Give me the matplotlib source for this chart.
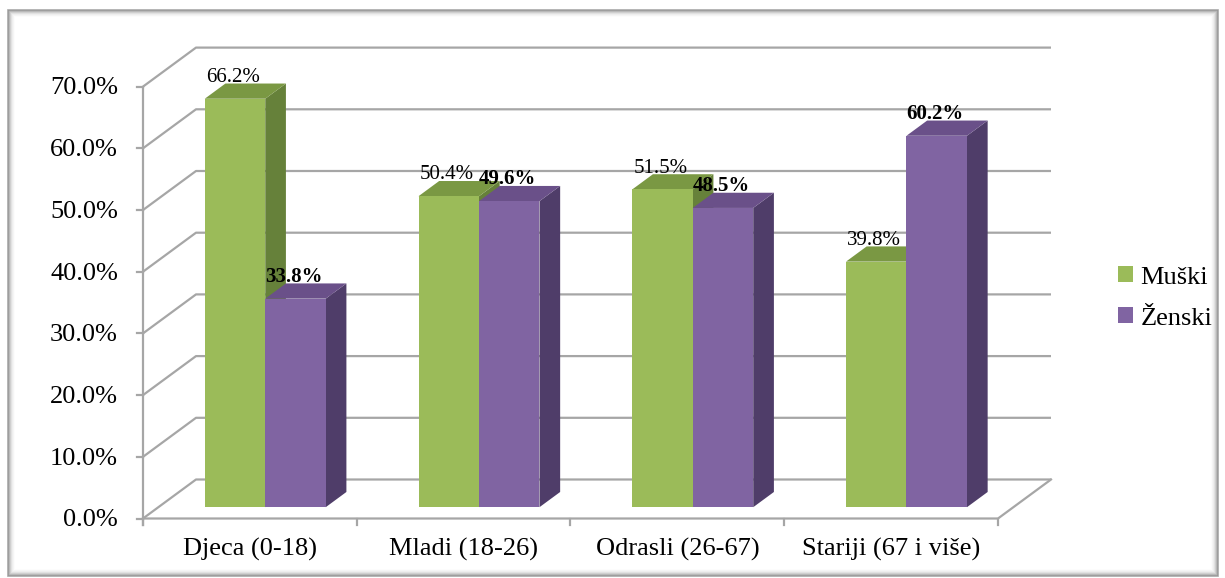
import matplotlib.pyplot as plt
from matplotlib.patches import Polygon, Rectangle, Patch

plt.rcParams['font.family'] = ['Liberation Serif', 'DejaVu Serif']

categories = ['Djeca (0-18)', 'Mladi (18-26)', 'Odrasli (26-67)', 'Stariji (67 i više)']
muski = [66.2, 50.4, 51.5, 39.8]
zenski = [33.8, 49.6, 48.5, 60.2]
series_names = ['Muški', 'Ženski']
y_ticks = [0, 10, 20, 30, 40, 50, 60, 70]

# colours: front, top, side
green = ('#9bbb59', '#7a9843', '#66813a')
purple = ('#8064a2', '#6a5089', '#4f3d69')
grid_c = '#a6a6a6'

# layout in pixels
W, H = 1225, 578
X0, SX = 143.0, 213.75      # front floor left, px per category
Y0, SY = 518.5, 6.17        # front floor y, px per percent
DXD = 53 / SX               # depth offset (data units)
DYD = 39 / SY
BAR_W = 0.283
D_FRONT, D_BACK = 0.29, 0.68

fig = plt.figure(figsize=(W / 100, H / 100), dpi=100)
ax = fig.add_axes([0, 0, 1, 1])
ax.set_xlim(-0.5 - X0 / SX, -0.5 + (W - X0) / SX)
ax.set_ylim(-(H - Y0) / SY, Y0 / SY)
ax.axis('off')


def proj(x, v, d):
    return x + d * DXD, v + d * DYD


x_left, x_right = -0.5, len(categories) - 0.5

# back wall + left wall gridlines
for v in y_ticks:
    p0 = proj(x_left, v, 0)
    p1 = proj(x_left, v, 1)
    p2 = proj(x_right, v, 1)
    ax.plot([p0[0], p1[0], p2[0]], [p0[1], p1[1], p2[1]], color=grid_c, lw=1.6,
            solid_capstyle='butt', zorder=1)
    ax.plot([x_left - 6 / SX, x_left], [v, v], color=grid_c, lw=1.6, zorder=1)
    ax.text(x_left - 25 / SX, v - 0.3, f'{v:.1f}%', ha='right', va='center',
            fontsize=19, color='black')

# floor front + right edge, y axis line
f1 = proj(x_right, 0, 1)
ax.plot([x_left, x_right, f1[0]], [0, 0, f1[1]], color=grid_c, lw=1.6, zorder=1)
ax.plot([x_left, x_left], [-1.0, y_ticks[-1]], color=grid_c, lw=1.6, zorder=1)
for i in range(len(categories) + 1):
    ax.plot([x_left + i, x_left + i], [0, -1.1], color=grid_c, lw=1.6, zorder=1)

for i, cat in enumerate(categories):
    ax.text(i, -5.0, cat, ha='center', va='center', fontsize=19, color='black')


def bar3d(x0, x1, v, cols, z):
    front, top, side = cols
    a = proj(x0, 0, D_FRONT); b = proj(x1, 0, D_FRONT)
    c = proj(x1, v, D_FRONT); d = proj(x0, v, D_FRONT)
    b2 = proj(x1, 0, D_BACK); c2 = proj(x1, v, D_BACK); d2 = proj(x0, v, D_BACK)
    ax.add_patch(Polygon([b, b2, c2, c], closed=True, fc=side, ec='none', zorder=z))
    ax.add_patch(Polygon([d, c, c2, d2], closed=True, fc=top, ec='none', zorder=z))
    ax.add_patch(Polygon([a, b, c, d], closed=True, fc=front, ec='none', zorder=z))


for i in range(len(categories)):
    bar3d(i - BAR_W, i, muski[i], green, 3 + i)
    bar3d(i, i + BAR_W, zenski[i], purple, 3 + i)
    for xc, v, wt in [(i - BAR_W / 2, muski[i], 'normal'), (i + BAR_W / 2, zenski[i], 'bold')]:
        tx = xc + D_FRONT * DXD - 2 / SX
        ty = v + D_BACK * DYD + 0.25
        ax.text(tx, ty, f'{v:.1f}%', ha='center', va='baseline', fontsize=15,
                fontweight=wt, color='black', zorder=20)

handles = [Patch(fc=green[0], ec='none'), Patch(fc=purple[0], ec='none')]
fig.legend(handles, series_names, loc='center left', bbox_to_anchor=(1118 / W, 1 - 298 / H),
           frameon=False, fontsize=19, handlelength=0.55, handleheight=0.55,
           handletextpad=0.3, labelspacing=0.7, borderpad=0, borderaxespad=0)

# outer frame with soft inner shadow
for k, a in enumerate([0.6, 0.4, 0.26, 0.16, 0.09, 0.05, 0.02]):
    fig.patches.append(Rectangle(((8 + k) / W, (2 + k) / H), (1210 - 2 * k) / W, (566 - 2 * k) / H,
                                 transform=fig.transFigure, fill=False, ec='#6e6e6e', lw=1.2,
                                 alpha=a, zorder=0))

fig.savefig('out.png', dpi=100)
